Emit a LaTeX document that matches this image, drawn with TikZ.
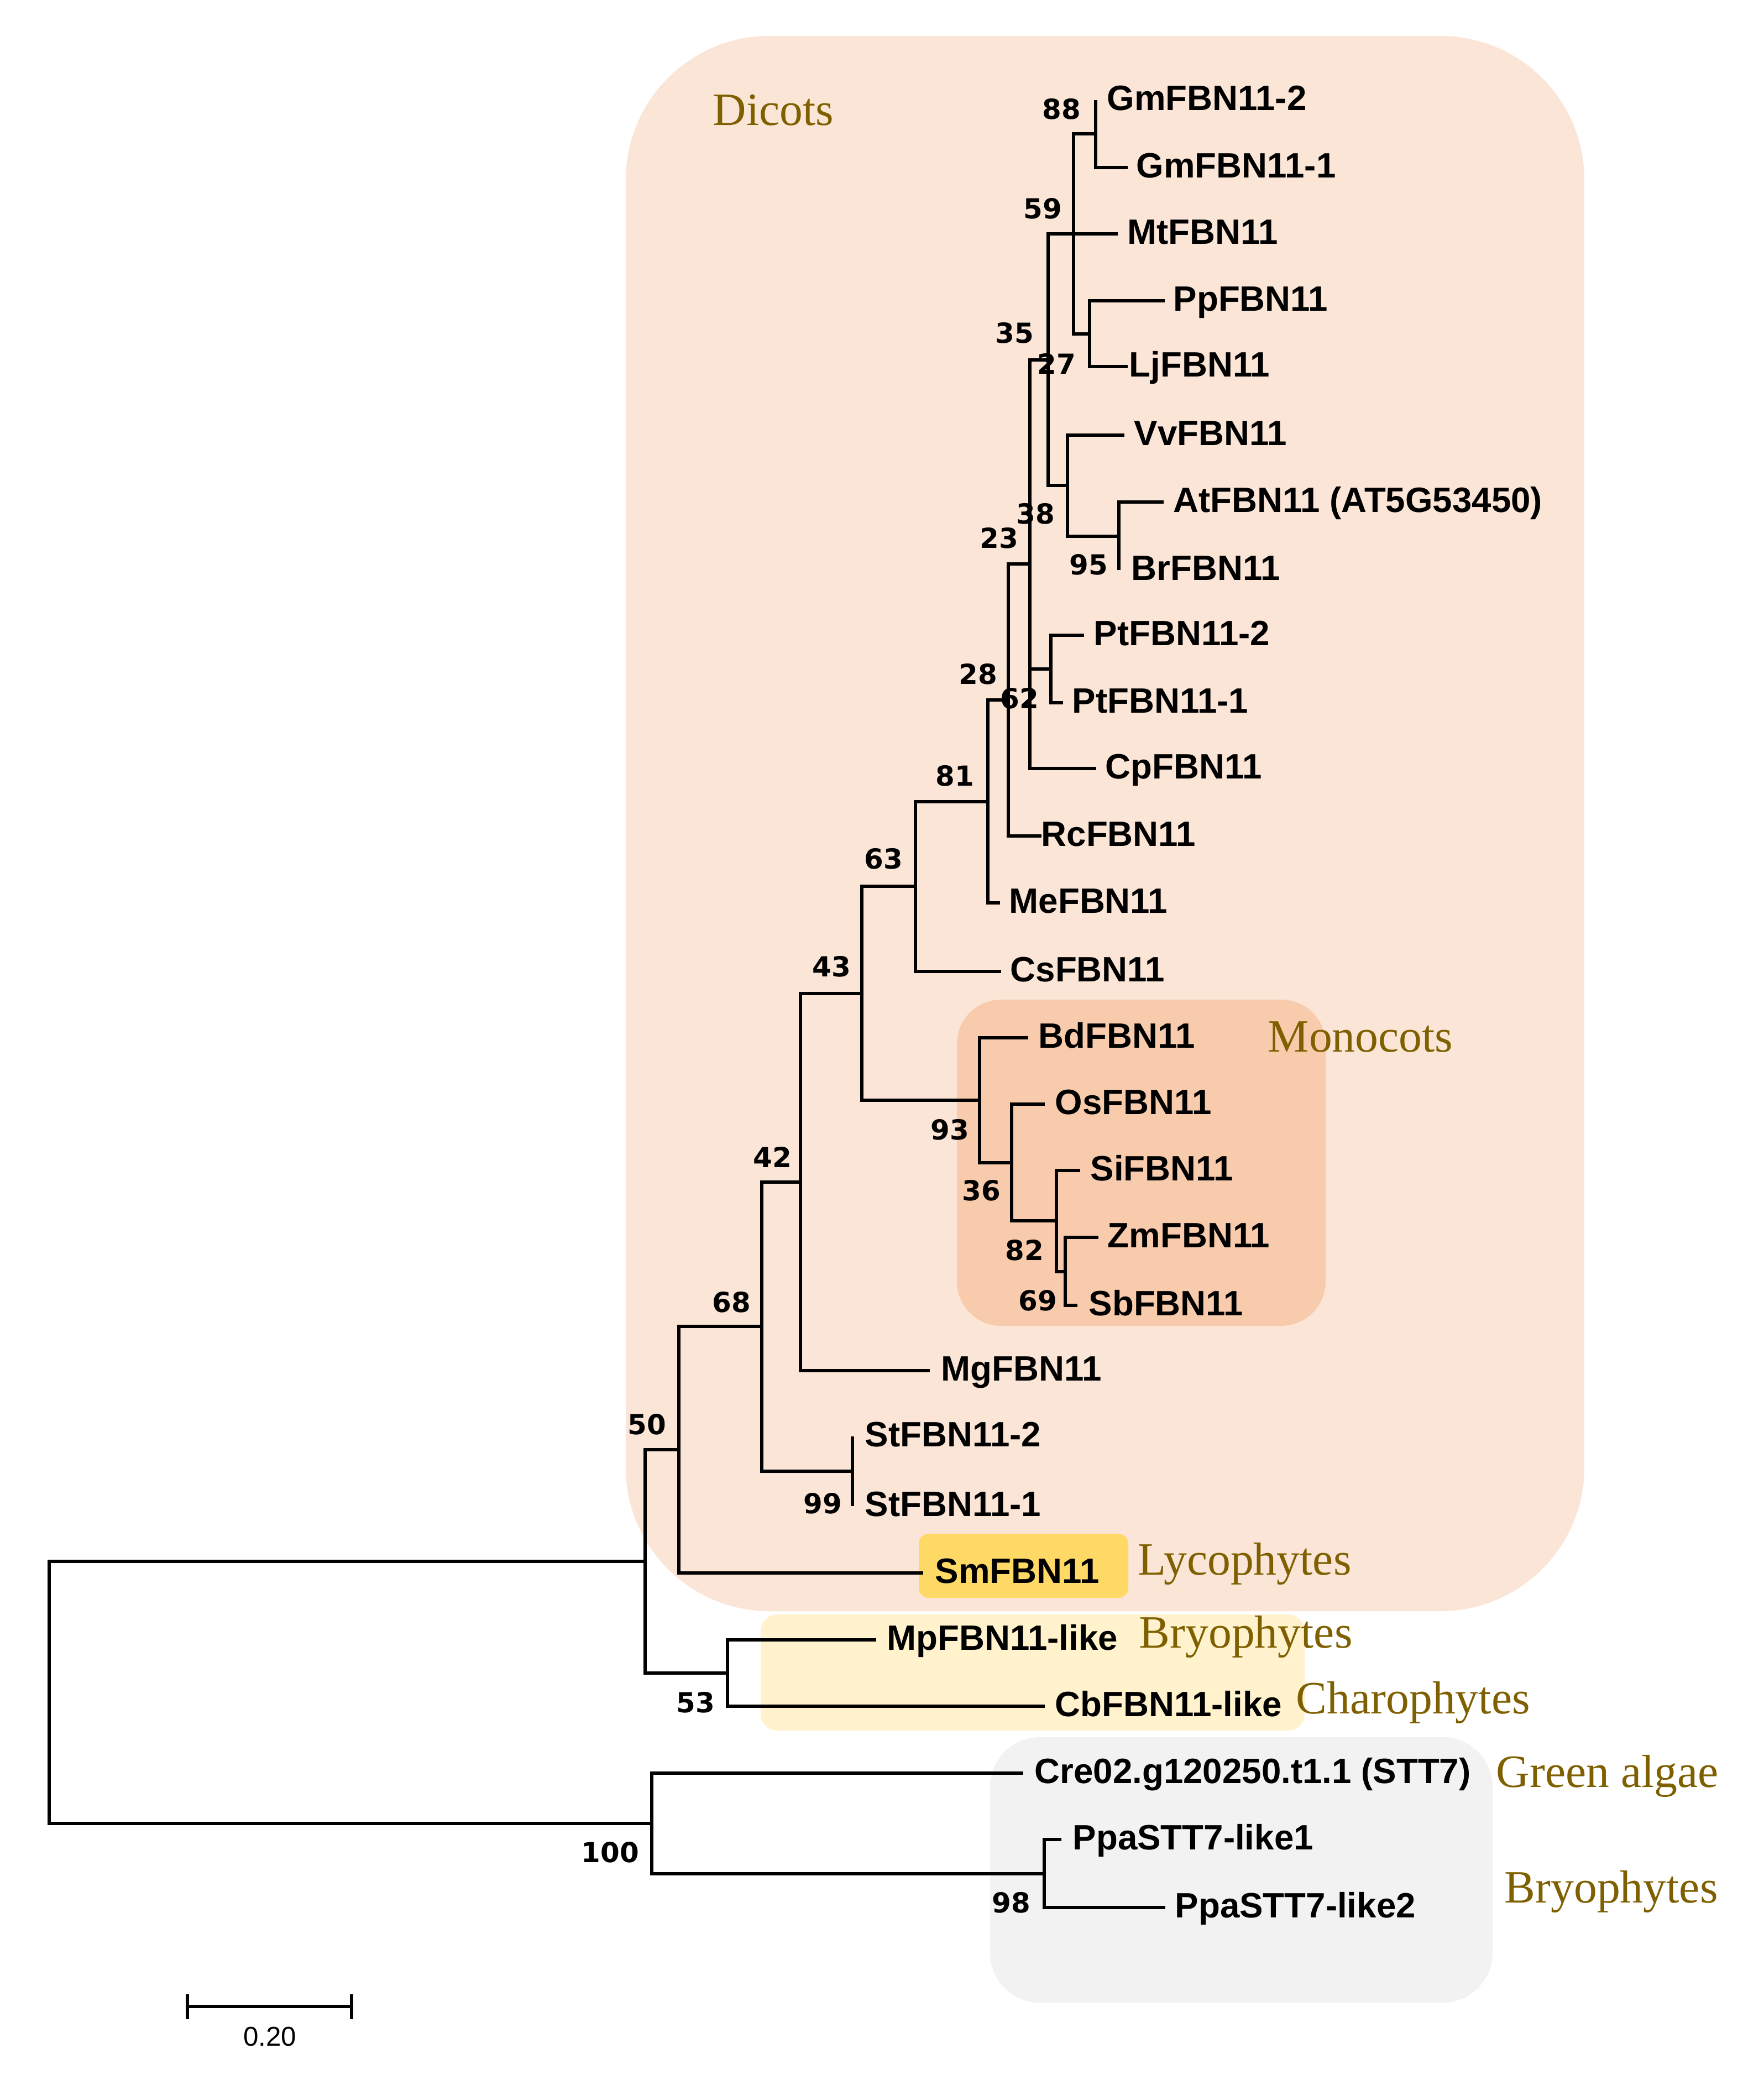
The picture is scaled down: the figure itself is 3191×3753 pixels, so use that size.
\documentclass[tikz,border=0pt]{standalone}
\usepackage{fontspec}
\setmainfont{Liberation Sans}
\newfontfamily\taxfont{Liberation Sans}
\newfontfamily\bsfont{DejaVu Sans}
\newfontfamily\catfont{Liberation Serif}
\definecolor{dicotbg}{HTML}{FBE5D6}
\definecolor{monobg}{HTML}{F8CBAD}
\definecolor{lycobg}{HTML}{FFD966}
\definecolor{bryobg}{HTML}{FFF2CC}
\definecolor{algaebg}{HTML}{F2F2F2}
\definecolor{catcol}{HTML}{7F6000}
\tikzset{
  branch/.style={line width=1.7pt, line join=miter, black},
  taxon/.style={anchor=base west, inner sep=0pt, font=\taxfont\bfseries\fontsize{18.1pt}{20pt}\selectfont},
  bs/.style={anchor=center, inner sep=0pt, font=\bsfont\bfseries\fontsize{14.2pt}{16pt}\selectfont},
  cat/.style={anchor=base west, inner sep=0pt, text=catcol, font=\catfont\fontsize{23.8pt}{26pt}\selectfont},
}
\begin{document}
\begin{tikzpicture}[x=0.01cm,y=-0.01cm]
\useasboundingbox (0,0) rectangle (3191,3753);
\fill[white] (0,0) rectangle (3191,3753);
% group backgrounds
\fill[dicotbg, rounded corners=2.6cm] (1132,65) rectangle (2866,2914);
\fill[monobg, rounded corners=0.8cm] (1731,1808) rectangle (2398,2398);
\fill[lycobg, rounded corners=0.18cm] (1662,2774) rectangle (2041,2890);
\fill[bryobg, rounded corners=0.3cm] (1376,2920) rectangle (2360,3130);
\fill[algaebg, rounded corners=0.9cm] (1791,3142) rectangle (2700,3622);
% tips (branch ends)
\coordinate (Gm2) at (1982,181);
\coordinate (Gm1) at (2040,303);
\coordinate (Mt) at (2022,423);
\coordinate (Pp) at (2107,544);
\coordinate (Lj) at (2040,663);
\coordinate (Vv) at (2034,787);
\coordinate (At) at (2105,908);
\coordinate (Br) at (2024,1031);
\coordinate (Pt2) at (1961,1149);
\coordinate (Pt1) at (1923,1271);
\coordinate (Cp) at (1983,1390);
\coordinate (Rc) at (1884,1512);
\coordinate (Me) at (1809,1633);
\coordinate (Cs) at (1811,1757);
\coordinate (Bd) at (1860,1877);
\coordinate (Os) at (1890,1997);
\coordinate (Si) at (1954,2117);
\coordinate (Zm) at (1987,2238);
\coordinate (Sb) at (1949,2361);
\coordinate (Mg) at (1682,2479);
\coordinate (St2) at (1542,2598);
\coordinate (St1) at (1542,2724);
\coordinate (Sm) at (1670,2845);
\coordinate (Mp) at (1585,2966);
\coordinate (Cb) at (1890,3086);
\coordinate (Cre) at (1851,3207);
\coordinate (Ppa1) at (1920,3327);
\coordinate (Ppa2) at (2108,3450);
% internal nodes
\coordinate (n88) at (1982,242);
\coordinate (nPL) at (1971,603.5);
\coordinate (n59) at (1942,423);
\coordinate (n95) at (2024,969.5);
\coordinate (nVAB) at (1931,878.25);
\coordinate (n35) at (1896,650.6);
\coordinate (nPt) at (1901,1210);
\coordinate (n27) at (1863,1020.3);
\coordinate (n23) at (1824,1266.2);
\coordinate (n28) at (1787,1449.6);
\coordinate (n81) at (1656,1603.3);
\coordinate (n69) at (1927,2299.5);
\coordinate (n82) at (1911,2208.25);
\coordinate (n36) at (1830,2102.6);
\coordinate (n93) at (1772,1989.8);
\coordinate (n63) at (1559,1796.6);
\coordinate (n43) at (1448,2137.8);
\coordinate (n99) at (1542,2661);
\coordinate (n42) at (1378,2399.4);
\coordinate (n68) at (1228,2622.2);
\coordinate (n53) at (1316,3026);
\coordinate (n50) at (1167,2824.1);
\coordinate (n98) at (1889,3388.5);
\coordinate (n100) at (1179,3297.75);
\coordinate (root) at (89,3061);
% branches
\draw[branch] (n88) |- (Gm2);
\draw[branch] (n88) |- (Gm1);
\draw[branch] (nPL) |- (Pp);
\draw[branch] (nPL) |- (Lj);
\draw[branch] (n59) |- (n88);
\draw[branch] (n59) -- (Mt);
\draw[branch] (n59) |- (nPL);
\draw[branch] (n95) |- (At);
\draw[branch] (n95) |- (Br);
\draw[branch] (nVAB) |- (Vv);
\draw[branch] (nVAB) |- (n95);
\draw[branch] (n35) |- (n59);
\draw[branch] (n35) |- (nVAB);
\draw[branch] (nPt) |- (Pt2);
\draw[branch] (nPt) |- (Pt1);
\draw[branch] (n27) |- (n35);
\draw[branch] (n27) |- (nPt);
\draw[branch] (n27) |- (Cp);
\draw[branch] (n23) |- (n27);
\draw[branch] (n23) |- (Rc);
\draw[branch] (n28) |- (n23);
\draw[branch] (n28) |- (Me);
\draw[branch] (n81) |- (n28);
\draw[branch] (n81) |- (Cs);
\draw[branch] (n69) |- (Zm);
\draw[branch] (n69) |- (Sb);
\draw[branch] (n82) |- (Si);
\draw[branch] (n82) |- (n69);
\draw[branch] (n36) |- (Os);
\draw[branch] (n36) |- (n82);
\draw[branch] (n93) |- (Bd);
\draw[branch] (n93) |- (n36);
\draw[branch] (n63) |- (n81);
\draw[branch] (n63) |- (n93);
\draw[branch] (n43) |- (n63);
\draw[branch] (n43) |- (Mg);
\draw[branch] (n99) |- (St2);
\draw[branch] (n99) |- (St1);
\draw[branch] (n42) |- (n43);
\draw[branch] (n42) |- (n99);
\draw[branch] (n68) |- (n42);
\draw[branch] (n68) |- (Sm);
\draw[branch] (n53) |- (Mp);
\draw[branch] (n53) |- (Cb);
\draw[branch] (n50) |- (n68);
\draw[branch] (n50) |- (n53);
\draw[branch] (n98) |- (Ppa1);
\draw[branch] (n98) |- (Ppa2);
\draw[branch] (n100) |- (Cre);
\draw[branch] (n100) |- (n98);
\draw[branch] (root) |- (n50);
\draw[branch] (root) |- (n100);
% taxon labels
\node[taxon] (tGm2) at (2002,199.5) {GmFBN11-2};
\node[taxon] (tGm1) at (2055,321.5) {GmFBN11-1};
\node[taxon] (tMt) at (2039,441.5) {MtFBN11};
\node[taxon] (tPp) at (2122,562.5) {PpFBN11};
\node[taxon] (tLj) at (2042,681.5) {LjFBN11};
\node[taxon] (tVv) at (2051,805.5) {VvFBN11};
\node[taxon] (tAt) at (2122,926.5) {AtFBN11 (AT5G53450)};
\node[taxon] (tBr) at (2046,1049.5) {BrFBN11};
\node[taxon] (tPt2) at (1978,1167.5) {PtFBN11-2};
\node[taxon] (tPt1) at (1939,1289.5) {PtFBN11-1};
\node[taxon] (tCp) at (1999,1408.5) {CpFBN11};
\node[taxon] (tRc) at (1883,1530.5) {RcFBN11};
\node[taxon] (tMe) at (1825,1651.5) {MeFBN11};
\node[taxon] (tCs) at (1827,1775.5) {CsFBN11};
\node[taxon] (tBd) at (1878,1895.5) {BdFBN11};
\node[taxon] (tOs) at (1908,2015.5) {OsFBN11};
\node[taxon] (tSi) at (1972,2135.5) {SiFBN11};
\node[taxon] (tZm) at (2003,2256.5) {ZmFBN11};
\node[taxon] (tSb) at (1969,2379.5) {SbFBN11};
\node[taxon] (tMg) at (1702,2497.5) {MgFBN11};
\node[taxon] (tSt2) at (1564,2616.5) {StFBN11-2};
\node[taxon] (tSt1) at (1564,2742.5) {StFBN11-1};
\node[taxon] (tSm) at (1691,2863.5) {SmFBN11};
\node[taxon] (tMp) at (1604,2984.5) {MpFBN11-like};
\node[taxon] (tCb) at (1908,3104.5) {CbFBN11-like};
\node[taxon] (tCre) at (1871,3225.5) {Cre02.g120250.t1.1 (STT7)};
\node[taxon] (tPpa1) at (1940,3345.5) {PpaSTT7-like1};
\node[taxon] (tPpa2) at (2125,3468.5) {PpaSTT7-like2};
% bootstrap values
\node[bs] (b88) at (1920,197) {88};
\node[bs] (b59) at (1886,377) {59};
\node[bs] (b35) at (1835,602) {35};
\node[bs] (b27) at (1911,658) {27};
\node[bs] (b38) at (1873,929) {38};
\node[bs] (b23) at (1807,973) {23};
\node[bs] (b95) at (1969,1021) {95};
\node[bs] (b28) at (1769,1219) {28};
\node[bs] (b62) at (1844,1263) {62};
\node[bs] (b81) at (1727,1403) {81};
\node[bs] (b63) at (1598,1553) {63};
\node[bs] (b43) at (1504,1748) {43};
\node[bs] (b93) at (1718,2043) {93};
\node[bs] (b36) at (1775,2153) {36};
\node[bs] (b82) at (1853,2261) {82};
\node[bs] (b69) at (1877,2352) {69};
\node[bs] (b42) at (1397,2093) {42};
\node[bs] (b68) at (1323,2355) {68};
\node[bs] (b50) at (1170,2576) {50};
\node[bs] (b99) at (1488,2719) {99};
\node[bs] (b53) at (1258,3079) {53};
\node[bs] (b100) at (1104,3350) {100};
\node[bs] (b98) at (1829,3441) {98};
% group labels
\node[cat] (cDicots) at (1289,226) {Dicots};
\node[cat] (cMono) at (2293,1902) {Monocots};
\node[cat] (cLyco) at (2058,2848) {Lycophytes};
\node[cat] (cBryo1) at (2060,2980) {Bryophytes};
\node[cat] (cCharo) at (2344,3099) {Charophytes};
\node[cat] (cAlgae) at (2706,3232) {Green algae};
\node[cat] (cBryo2) at (2721,3441) {Bryophytes};
% scale bar
\coordinate (sbL) at (339,3629);
\coordinate (sbR) at (636,3629);
\draw[branch] (sbL) -- (sbR);
\draw[branch] ([yshift=0.22cm]sbL) -- ([yshift=-0.23cm]sbL);
\draw[branch] ([yshift=0.22cm]sbR) -- ([yshift=-0.23cm]sbR);
\node[inner sep=0pt, font=\fontsize{14pt}{16pt}\selectfont] (sbT) at (488,3684) {0.20};
\end{tikzpicture}
\end{document}
